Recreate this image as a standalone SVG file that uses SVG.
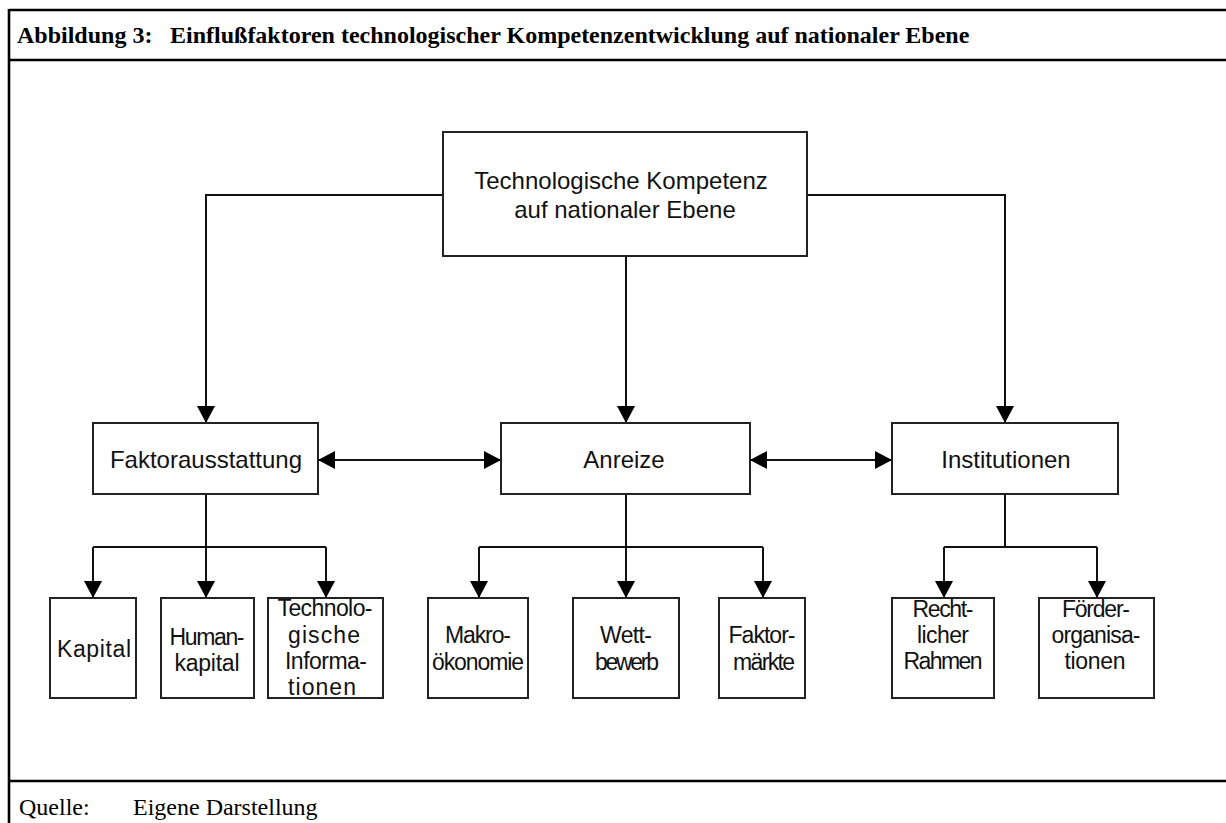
<svg xmlns="http://www.w3.org/2000/svg" width="1226" height="823" viewBox="0 0 1226 823">
<style>
.frame{fill:none;stroke:#000;stroke-width:2.6}
.box{fill:#fff;stroke:#222;stroke-width:2}
.con{fill:none;stroke:#111;stroke-width:2}
.t{font-family:"Liberation Sans",Arial,sans-serif;font-size:23px;fill:#111;text-anchor:middle}
.title{font-family:"Liberation Serif","Times New Roman",serif;font-size:24px;font-weight:bold;fill:#000}
.src{font-family:"Liberation Serif","Times New Roman",serif;font-size:24px;fill:#000}
</style>
<defs>
<marker id="ah" viewBox="0 0 17 18" refX="17" refY="9" markerWidth="17" markerHeight="18" markerUnits="userSpaceOnUse" orient="auto-start-reverse">
<path d="M0,0 L17,9 L0,18 z" fill="#000"/>
</marker>
</defs>
<rect width="1226" height="823" fill="#fff"/>
<g id="frame">
<line class="frame" x1="9" y1="10" x2="1226" y2="10"/>
<line class="frame" x1="9" y1="60" x2="1226" y2="60"/>
<line class="frame" x1="9" y1="781" x2="1226" y2="781"/>
<line class="frame" x1="9" y1="9" x2="9" y2="823"/>
<text class="title" x="17" y="43">Abbildung 3:<tspan x="170">Einflußfaktoren technologischer Kompetenzentwicklung auf nationaler Ebene</tspan></text>
<text class="src" x="19" y="815">Quelle:<tspan x="133">Eigene Darstellung</tspan></text>
</g>
<g id="connectors">
<path class="con" d="M626,256 V423" marker-end="url(#ah)"/>
<path class="con" d="M443,195 H206 V423" marker-end="url(#ah)"/>
<path class="con" d="M807,195 H1005 V423" marker-end="url(#ah)"/>
<path class="con" d="M318,460 H501" marker-start="url(#ah)" marker-end="url(#ah)"/>
<path class="con" d="M750,460 H892" marker-start="url(#ah)" marker-end="url(#ah)"/>
<path class="con" d="M206,494 V598" marker-end="url(#ah)"/>
<path class="con" d="M93,547 H326"/>
<path class="con" d="M93,547 V598" marker-end="url(#ah)"/>
<path class="con" d="M326,547 V598" marker-end="url(#ah)"/>
<path class="con" d="M626,494 V598" marker-end="url(#ah)"/>
<path class="con" d="M479,547 H763"/>
<path class="con" d="M479,547 V598" marker-end="url(#ah)"/>
<path class="con" d="M763,547 V598" marker-end="url(#ah)"/>
<path class="con" d="M1005,494 V547"/>
<path class="con" d="M944,547 H1097"/>
<path class="con" d="M944,547 V598" marker-end="url(#ah)"/>
<path class="con" d="M1097,547 V598" marker-end="url(#ah)"/>
</g>
<g id="n-top">
<rect class="box" x="443" y="132" width="364" height="124"/>
<text class="t" x="621" y="189" style="font-size:24px">Technologische Kompetenz</text>
<text class="t" x="625" y="218" style="font-size:24px">auf nationaler Ebene</text>
</g>
<g id="n-faktorausstattung">
<rect class="box" x="93" y="423" width="225" height="71"/>
<text class="t" x="206" y="468" style="font-size:24px">Faktorausstattung</text>
</g>
<g id="n-anreize">
<rect class="box" x="501" y="423" width="249" height="71"/>
<text class="t" x="624" y="468" style="font-size:24px">Anreize</text>
</g>
<g id="n-institutionen">
<rect class="box" x="892" y="423" width="226" height="71"/>
<text class="t" x="1006" y="468" style="font-size:24px">Institutionen</text>
</g>
<g id="n-kapital">
<rect class="box" x="50" y="598" width="86" height="100"/>
<text class="t" x="94" y="657" textLength="74">Kapital</text>
</g>
<g id="n-humankapital">
<rect class="box" x="161" y="598" width="93" height="100"/>
<text class="t" x="207" y="645" textLength="75">Human-</text>
<text class="t" x="207" y="671" textLength="65">kapital</text>
</g>
<g id="n-techinfo">
<rect class="box" x="268" y="598" width="115" height="100"/>
<text class="t" x="325" y="616" textLength="95">Technolo-</text>
<text class="t" x="324" y="643" textLength="72">gische</text>
<text class="t" x="326" y="669" textLength="82">Informa-</text>
<text class="t" x="322" y="695" textLength="68">tionen</text>
</g>
<g id="n-makro">
<rect class="box" x="428" y="598" width="100" height="100"/>
<text class="t" x="478" y="643" textLength="66">Makro-</text>
<text class="t" x="478" y="670" textLength="92">ökonomie</text>
</g>
<g id="n-wettbewerb">
<rect class="box" x="573" y="598" width="106" height="100"/>
<text class="t" x="626" y="643" textLength="52">Wett-</text>
<text class="t" x="627" y="670" textLength="64">bewerb</text>
</g>
<g id="n-faktormaerkte">
<rect class="box" x="719" y="598" width="86" height="100"/>
<text class="t" x="762" y="643" textLength="67">Faktor-</text>
<text class="t" x="764" y="670" textLength="62">märkte</text>
</g>
<g id="n-rahmen">
<rect class="box" x="892" y="598" width="102" height="100"/>
<text class="t" x="943" y="617" textLength="61">Recht-</text>
<text class="t" x="943" y="643" textLength="52">licher</text>
<text class="t" x="943" y="669" textLength="79">Rahmen</text>
</g>
<g id="n-foerder">
<rect class="box" x="1039" y="598" width="115" height="100"/>
<text class="t" x="1096" y="617" textLength="68">Förder-</text>
<text class="t" x="1096" y="643" textLength="89">organisa-</text>
<text class="t" x="1095" y="669" textLength="61">tionen</text>
</g>
</svg>
